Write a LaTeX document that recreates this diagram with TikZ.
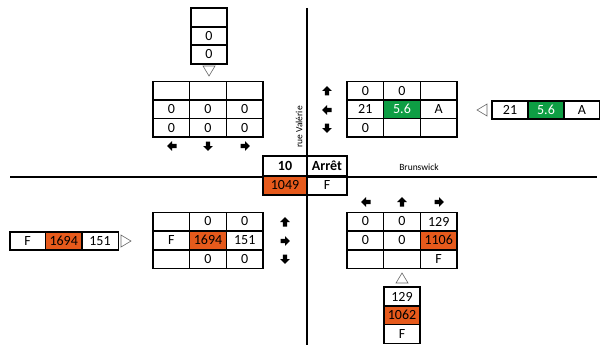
\documentclass[tikz,border=0pt]{standalone}
\usepackage{fontspec}
\setmainfont{Carlito}
\definecolor{org}{HTML}{E65A1C}
\definecolor{grn}{HTML}{0E9E44}
\tikzset{
  cell/.style={draw, line width=1.4pt, minimum width=36.7pt, minimum height=18.4pt, inner sep=0pt, font=\fontsize{14}{14}\selectfont, anchor=center},
  road/.style={line width=1.6pt},
  tri/.style={draw=black!60, line width=0.6pt},
  barrow/.pic={\fill[black] (-4.5,2.2)--(0,2.2)--(0,4.8)--(4.8,0)--(0,-4.8)--(0,-2.2)--(-4.5,-2.2)--cycle;},
  lbl/.style={font=\fontsize{9.5}{9.5}\selectfont, inner sep=0pt}
}
\begin{document}
\begin{tikzpicture}[x=1pt,y=-1pt]
\useasboundingbox (0,0) rectangle (600,345);
% roads
\coordinate (vt) at (307,8); \coordinate (vb) at (307,345);
\coordinate (hl) at (10,177); \coordinate (hr) at (597,177);
\draw[road] (vt) -- (vb);
\draw[road] (hl) -- (hr);
\node[lbl, rotate=90] (rv) at (299,127) {rue Valérie};
\node[lbl] (br) at (419,167) {Brunswick};
% north approach box
\node[cell, minimum width=36pt, minimum height=18.7pt] (n1) at (209,17.5) {};
\node[cell, minimum width=36pt, minimum height=18.7pt] (n2) at (209,36) {0};
\node[cell, minimum width=36pt, minimum height=18.7pt] (n3) at (209,54.5) {0};
\draw[tri] (203,66) -- (215,66) -- (209,76) -- cycle;
% NW grid
\foreach \c/\x in {1/171.3,2/208,3/244.7}{
  \node[cell] (nwa\c) at (\x,91) {};
  \node[cell] (nwb\c) at (\x,109.3) {0};
  \node[cell] (nwc\c) at (\x,127.7) {0};
}
\pic[rotate=180] at (172,146) {barrow};
\pic[rotate=-90] at (208,146) {barrow};
\pic at (245,146) {barrow};
% NE grid
\node[cell] (nea1) at (365.3,91) {0};
\node[cell] (nea2) at (402,91) {0};
\node[cell] (nea3) at (438.7,91) {};
\node[cell] (neb1) at (365.3,109.3) {21};
\node[cell, fill=grn, text=white] (neb2) at (402,109.3) {5.6};
\node[cell] (neb3) at (438.7,109.3) {A};
\node[cell] (nec1) at (365.3,127.7) {0};
\node[cell] (nec2) at (402,127.7) {};
\node[cell] (nec3) at (438.7,127.7) {};
\pic[rotate=90] at (327,91) {barrow};
\pic[rotate=180] at (327,110) {barrow};
\pic[rotate=-90] at (327,128) {barrow};
% east approach
\node[cell, minimum width=36pt, minimum height=18pt] (e1) at (510,110) {21};
\node[cell, minimum width=36pt, minimum height=18pt, fill=grn, text=white] (e2) at (546,110) {5.6};
\node[cell, minimum width=36pt, minimum height=18pt] (e3) at (582,110) {A};
\draw[tri] (487,104) -- (487,116) -- (477,110) -- cycle;
% center box
\node[cell, minimum width=44pt, minimum height=20pt, font=\fontsize{14}{14}\selectfont\bfseries] (c1) at (285,166) {10};
\node[cell, minimum width=40pt, minimum height=20pt, font=\fontsize{14}{14}\selectfont\bfseries] (c2) at (327,166) {Arrêt};
\node[cell, minimum width=44pt, minimum height=19pt, fill=org] (c3) at (285,185.5) {1049};
\node[cell, minimum width=40pt, minimum height=19pt] (c4) at (327,185.5) {F};
% west approach
\node[cell, minimum width=35.5pt, minimum height=18pt] (w1) at (27.7,241) {F};
\node[cell, minimum width=36.5pt, minimum height=18pt, fill=org] (w2) at (63.7,241) {1694};
\node[cell, minimum width=36.5pt, minimum height=18pt] (w3) at (100,241) {151};
\draw[tri] (121,235) -- (121,247) -- (131,241) -- cycle;
% SW grid
\node[cell] (swa1) at (171.3,221.5) {};
\node[cell] (swa2) at (208,221.5) {0};
\node[cell] (swa3) at (244.7,221.5) {0};
\node[cell] (swb1) at (171.3,240.3) {F};
\node[cell, fill=org] (swb2) at (208,240.3) {1694};
\node[cell] (swb3) at (244.7,240.3) {151};
\node[cell] (swc1) at (171.3,259) {};
\node[cell] (swc2) at (208,259) {0};
\node[cell] (swc3) at (244.7,259) {0};
\pic[rotate=90] at (285,222) {barrow};
\pic at (285,241) {barrow};
\pic[rotate=-90] at (285,259) {barrow};
% SE grid
\node[cell] (sea1) at (365.3,221.5) {0};
\node[cell] (sea2) at (402,221.5) {0};
\node[cell] (sea3) at (438.7,221.5) {129};
\node[cell] (seb1) at (365.3,240.3) {0};
\node[cell] (seb2) at (402,240.3) {0};
\node[cell, fill=org] (seb3) at (438.7,240.3) {1106};
\node[cell] (sec1) at (365.3,259) {};
\node[cell] (sec2) at (402,259) {};
\node[cell] (sec3) at (438.7,259) {F};
\pic[rotate=180] at (366,202) {barrow};
\pic[rotate=90] at (402,202) {barrow};
\pic at (439,202) {barrow};
% south approach
\draw[tri] (396,283) -- (408,283) -- (402,273) -- cycle;
\node[cell, minimum width=36pt, minimum height=18.7pt] (s1) at (402,296.5) {129};
\node[cell, minimum width=36pt, minimum height=18.7pt, fill=org] (s2) at (402,315.2) {1062};
\node[cell, minimum width=36pt, minimum height=18.7pt] (s3) at (402,333.9) {F};
\end{tikzpicture}
\end{document}
